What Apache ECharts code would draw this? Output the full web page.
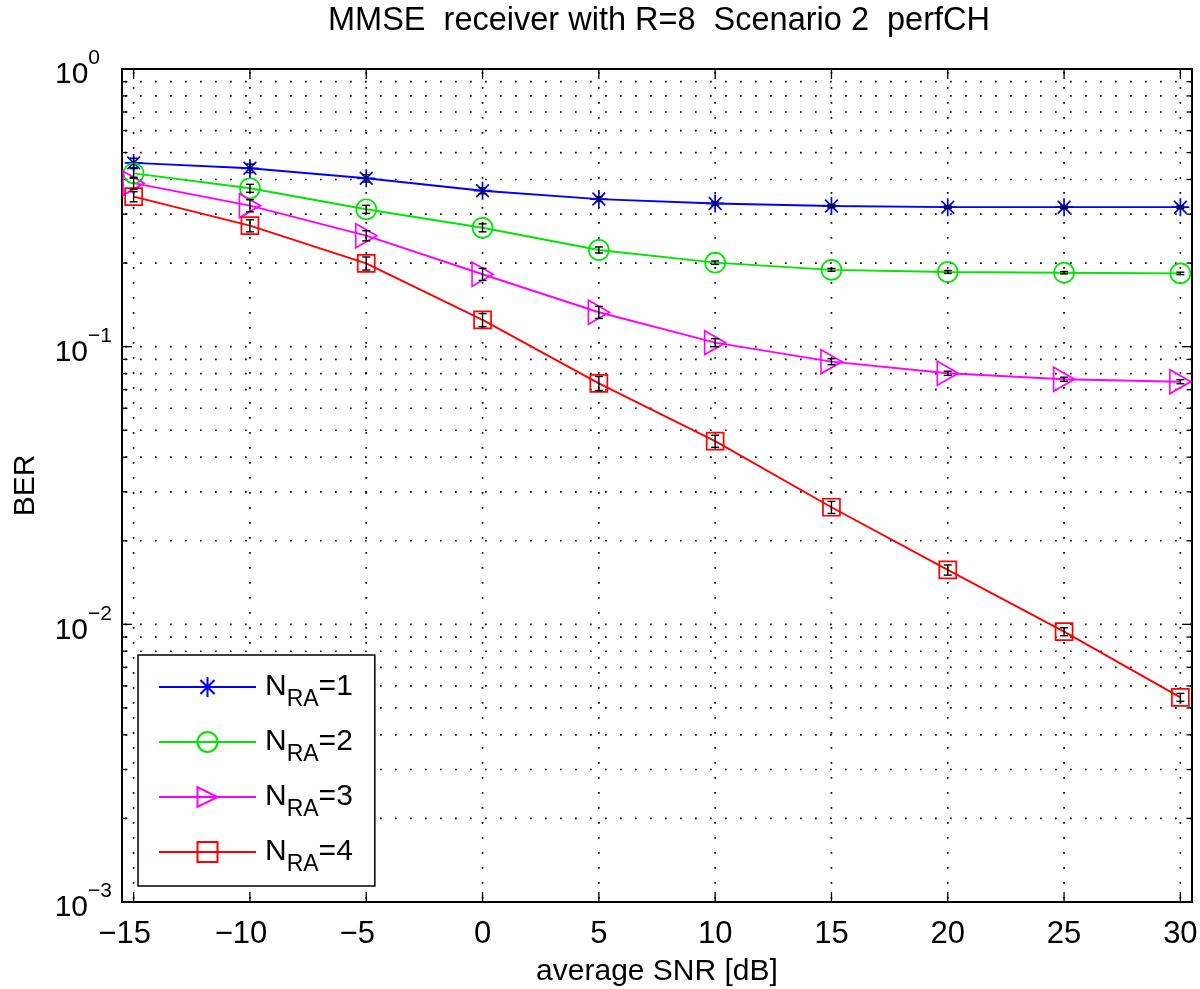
<!DOCTYPE html>
<html><head><meta charset="utf-8">
<script src="https://cdn.jsdelivr.net/npm/echarts@6/dist/echarts.min.js"></script>
<style>html,body{margin:0;padding:0;background:#fff}#c{width:1200px;height:989px}</style>
</head><body><div id="c"></div>
<script>
// ---- data ----
const snr = [-15, -10, -5, 0, 5, 10, 15, 20, 25, 30];
const berNRA1 = [0.459, 0.439, 0.404, 0.3645, 0.340, 0.328, 0.321, 0.318, 0.318, 0.318];
const berNRA2 = [0.421, 0.372, 0.3125, 0.268, 0.223, 0.2007, 0.189, 0.1858, 0.1847, 0.1836];
const berNRA3 = [0.388, 0.322, 0.251, 0.1823, 0.133, 0.1034, 0.0883, 0.0802, 0.0763, 0.0748];
const berNRA4 = [0.347, 0.2727, 0.1996, 0.1248, 0.0738, 0.0457, 0.0264, 0.0157, 0.00941, 0.00546];
// relative half-height of the confidence bars
const errNRA1 = [0.04, 0.035, 0.03, 0.025, 0.02, 0.015, 0.012, 0.01, 0.01, 0.01];
const errNRA2 = [0.04, 0.033, 0.033, 0.033, 0.025, 0.014, 0.012, 0.012, 0.01, 0.01];
const errNRA3 = [0.05, 0.05, 0.042, 0.05, 0.05, 0.033, 0.025, 0.017, 0.017, 0.017];
const errNRA4 = [0.042, 0.05, 0.054, 0.054, 0.058, 0.05, 0.05, 0.042, 0.033, 0.033];
const seriesNames = ['N_RA=1', 'N_RA=2', 'N_RA=3', 'N_RA=4'];
const xTicks = [-15, -10, -5, 0, 5, 10, 15, 20, 25, 30];
const yDecades = [0.001, 0.01, 0.1, 1];
const titleText = 'MMSE  receiver with R=8  Scenario 2  perfCH';
const xName = 'average SNR [dB]';
const yName = 'BER';

// ---- styles ----
const colors = ['#0000ff', '#00e600', '#ff00ff', '#ff0000'];
const FONT = 'Liberation Sans, Arial, Helvetica, sans-serif';
const starPath = 'path://M0,-8L0,8M-8,0L8,0M-5.66,-5.66L5.66,5.66M-5.66,5.66L5.66,-5.66';
const symbols = [starPath, 'circle', 'triangle', 'rect'];
const symSizes = [18, 20, [24, 21], 17];
const symRot = [0, 0, -90, 0];
const XMIN = -15.5, XMAX = 30.5;

const berSets = [berNRA1, berNRA2, berNRA3, berNRA4];
const errSets = [errNRA1, errNRA2, errNRA3, errNRA4];

// grid values on the log axis: decades and 2..9 multiples
const yGrid = [];
for (let d = 0; d < yDecades.length - 1; d++) {
  for (let m = 1; m <= 9; m++) yGrid.push({v: m * yDecades[d], major: m === 1});
}
yGrid.push({v: yDecades[yDecades.length - 1], major: true});

function renderFrame(params, api) {
  const cs = params.coordSys;
  const L = cs.x, R = cs.x + cs.width, T = cs.y, B = cs.y + cs.height;
  const els = [];
  const dot = {stroke: '#000', lineWidth: 1.7, lineDash: [1.7, 13.3], fill: null};
  const tk = {stroke: '#000', lineWidth: 1.3, fill: null};
  yGrid.forEach(g => {
    const y = api.coord([XMIN, g.v])[1];
    if (y > T + 1 && y < B - 1) {
      els.push({type: 'line', shape: {x1: L + 3, y1: y, x2: R, y2: y}, style: dot});
    }
    const len = g.major ? 10 : 5.5;
    els.push({type: 'line', shape: {x1: L, y1: y, x2: L + len, y2: y}, style: tk});
    els.push({type: 'line', shape: {x1: R, y1: y, x2: R - len, y2: y}, style: tk});
  });
  xTicks.forEach(v => {
    const x = api.coord([v, 0.1])[0];
    els.push({type: 'line', shape: {x1: x, y1: T + 3, x2: x, y2: B}, style: dot});
    els.push({type: 'line', shape: {x1: x, y1: B, x2: x, y2: B - 10}, style: tk});
    els.push({type: 'line', shape: {x1: x, y1: T, x2: x, y2: T + 10}, style: tk});
  });
  els.push({type: 'rect', shape: {x: L, y: T, width: R - L, height: B - T},
    style: {fill: null, stroke: '#000', lineWidth: 2}});
  return {type: 'group', children: els};
}

function renderErr(params, api) {
  const x = api.value(0), lo = api.value(2), hi = api.value(3);
  const p1 = api.coord([x, lo]), p2 = api.coord([x, hi]);
  const w = 4;
  const st = {stroke: '#000', lineWidth: 1.4, fill: null};
  return {type: 'group', children: [
    {type: 'line', shape: {x1: p1[0], y1: p1[1], x2: p2[0], y2: p2[1]}, style: st},
    {type: 'line', shape: {x1: p1[0] - w, y1: p1[1], x2: p1[0] + w, y2: p1[1]}, style: st},
    {type: 'line', shape: {x1: p2[0] - w, y1: p2[1], x2: p2[0] + w, y2: p2[1]}, style: st}
  ]};
}

const series = [{
  type: 'custom', name: 'frame', silent: true, z: 1, clip: false,
  renderItem: renderFrame, data: [[7.5, 0.03]], encode: {x: 0, y: 1}
}];
berSets.forEach((b, i) => {
  series.push({
    type: 'line', name: seriesNames[i], z: 3,
    data: snr.map((x, j) => [x, b[j]]),
    symbol: symbols[i], symbolSize: symSizes[i], symbolRotate: symRot[i],
    showAllSymbol: true,
    itemStyle: {color: 'transparent', borderColor: colors[i], borderWidth: 1.7},
    lineStyle: {color: colors[i], width: 1.9},
    emphasis: {disabled: true}
  });
});
berSets.forEach((b, i) => {
  series.push({
    type: 'custom', name: 'err' + i, silent: true, z: 4,
    renderItem: renderErr, encode: {x: 0, y: 1},
    data: snr.map((x, j) => [x, b[j], b[j] * (1 - errSets[i][j]), b[j] * (1 + errSets[i][j])])
  });
});

const chart = echarts.init(document.getElementById('c'), null, {renderer: 'canvas'});
chart.setOption({
  animation: false,
  backgroundColor: '#fff',
  textStyle: {fontFamily: FONT},
  grid: {left: 122, right: 8, top: 69, bottom: 87, containLabel: false, outerBoundsMode: 'none'},
  graphic: [{
    type: 'text', x: 659, y: 21,
    style: {text: titleText, font: '32.5px ' + FONT, fill: '#000', textAlign: 'center', textVerticalAlign: 'middle'}
  }],
  xAxis: {
    type: 'value', min: XMIN, max: XMAX,
    name: xName, nameLocation: 'middle', nameGap: 55,
    nameTextStyle: {fontSize: 30, color: '#000', fontFamily: FONT},
    axisLine: {show: false}, axisTick: {show: false}, splitLine: {show: false},
    axisLabel: {
      customValues: xTicks, margin: 17, fontSize: 31, color: '#000', fontFamily: FONT,
      formatter: v => v < 0 ? '\u2212' + Math.abs(v) + '{p| }' : String(v),
      rich: {p: {width: 18, fontSize: 31}}
    }
  },
  yAxis: {
    type: 'log', logBase: 10, min: 0.001, max: 1,
    name: yName, nameLocation: 'middle', nameGap: 81, nameRotate: 90,
    nameTextStyle: {fontSize: 30, color: '#000', fontFamily: FONT},
    axisLine: {show: false}, axisTick: {show: false}, splitLine: {show: false},
    axisLabel: {
      margin: 10, color: '#000',
      formatter: v => {
        const e = Math.round(Math.log10(v));
        return '{b|10}{e|' + (e < 0 ? '\u2212' : '') + Math.abs(e) + '}' + (e >= 0 ? '{q| }' : '');
      },
      rich: {
        b: {fontSize: 30, lineHeight: 42, verticalAlign: 'bottom', fontFamily: FONT, color: '#000'},
        e: {fontSize: 21, lineHeight: 20, verticalAlign: 'top', fontFamily: FONT, color: '#000'},
        q: {fontSize: 21, lineHeight: 20, width: 12, verticalAlign: 'top'}
      }
    }
  },
  legend: {
    data: seriesNames, orient: 'vertical', left: 138, top: 655,
    backgroundColor: '#fff', borderColor: '#000', borderWidth: 1.5, borderRadius: 0,
    padding: [17, 22, 10, 20], itemWidth: 97, itemHeight: 25, itemGap: 16,
    selectedMode: false,
    formatter: name => '{z| }{n|N}{s|RA}{n|=' + name.split('=')[1] + '}',
    textStyle: {
      color: '#000', fontFamily: FONT,
      rich: {
        z: {width: 4, fontSize: 10, lineHeight: 48, verticalAlign: 'middle'},
        n: {fontSize: 30, lineHeight: 34, verticalAlign: 'middle', fontFamily: FONT, color: '#000'},
        s: {fontSize: 23, lineHeight: 23, verticalAlign: 'bottom', fontFamily: FONT, color: '#000'}
      }
    }
  },
  series: series
});
</script></body></html>
